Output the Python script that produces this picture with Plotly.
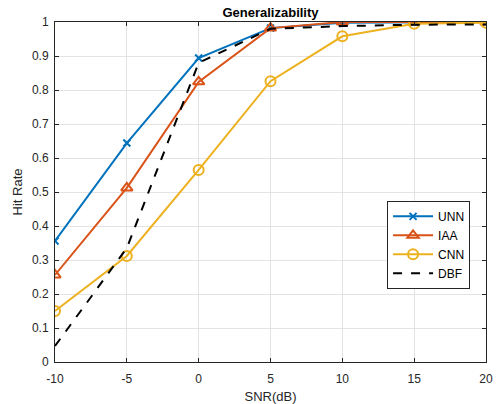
import plotly.graph_objects as go

snr = [-10, -5, 0, 5, 10, 15, 20]
unn = [0.356, 0.644, 0.894, 0.982, 0.998, 1.0, 1.0]
iaa = [0.256, 0.512, 0.824, 0.982, 1.0, 1.0, 1.0]
cnn = [0.150, 0.312, 0.565, 0.826, 0.958, 0.995, 0.998]
dbf = [0.047, 0.335, 0.880, 0.980, 0.988, 0.992, 0.993]

x_ticks = [-10, -5, 0, 5, 10, 15, 20]
x_tick_text = ["-10", "-5", "0", "5", "10", "15", "20"]
y_ticks = [0, 0.1, 0.2, 0.3, 0.4, 0.5, 0.6, 0.7, 0.8, 0.9, 1]
y_tick_text = ["0", "0.1", "0.2", "0.3", "0.4", "0.5", "0.6", "0.7", "0.8", "0.9", "1"]

fig = go.Figure()
fig.add_trace(go.Scatter(x=snr, y=unn, name="UNN", mode="lines+markers",
                         line=dict(color="#0072BD", width=2),
                         marker=dict(symbol="x-thin-open", size=7, line=dict(color="#0072BD", width=2))))
fig.add_trace(go.Scatter(x=snr, y=iaa, name="IAA", mode="lines+markers",
                         line=dict(color="#D95319", width=2),
                         marker=dict(symbol="triangle-up-open", size=10, line=dict(color="#D95319", width=2))))
fig.add_trace(go.Scatter(x=snr, y=cnn, name="CNN", mode="lines+markers",
                         line=dict(color="#EDB120", width=2),
                         marker=dict(symbol="circle-open", size=10, line=dict(color="#EDB120", width=2))))
fig.add_trace(go.Scatter(x=snr, y=dbf, name="DBF", mode="lines",
                         line=dict(color="black", width=2, dash="dash")))

axis_common = dict(showline=True, linecolor="#262626", linewidth=1, mirror="ticks",
                   ticks="inside", ticklen=4, tickcolor="#262626",
                   showgrid=True, gridcolor="#E3E3E3", gridwidth=1, zeroline=False,
                   tickfont=dict(size=12, color="#262626"), automargin=False)

fig.update_layout(
    width=498, height=404,
    margin=dict(l=55, r=12, t=22, b=42),
    paper_bgcolor="white", plot_bgcolor="white",
    font=dict(family="Liberation Sans, Arial, sans-serif", color="#262626"),
    title=dict(text="<b>Generalizability</b>", x=(55 + 486) / 2 / 498, xanchor="center",
               y=1 - 12.5 / 404, yanchor="middle", font=dict(size=13, color="black")),
    xaxis=dict(range=[-10, 20], tickvals=x_ticks, ticktext=x_tick_text, ticklabelstandoff=6,
               title=dict(text="SNR(dB)", font=dict(size=13), standoff=6), **axis_common),
    yaxis=dict(range=[0, 1], tickvals=y_ticks, ticktext=y_tick_text, ticklabelstandoff=3,
               title=dict(text="Hit Rate", font=dict(size=13), standoff=6), **axis_common),
    legend=dict(x=0.963, xanchor="right", y=0.474, yanchor="top",
                bgcolor="white", bordercolor="#262626", borderwidth=1,
                font=dict(size=12, color="black"), tracegroupgap=0,
                itemwidth=40),
    showlegend=True,
)

fig.write_html("out.html", post_script="document.body.style.margin='0';",
               config={"displayModeBar": False})
